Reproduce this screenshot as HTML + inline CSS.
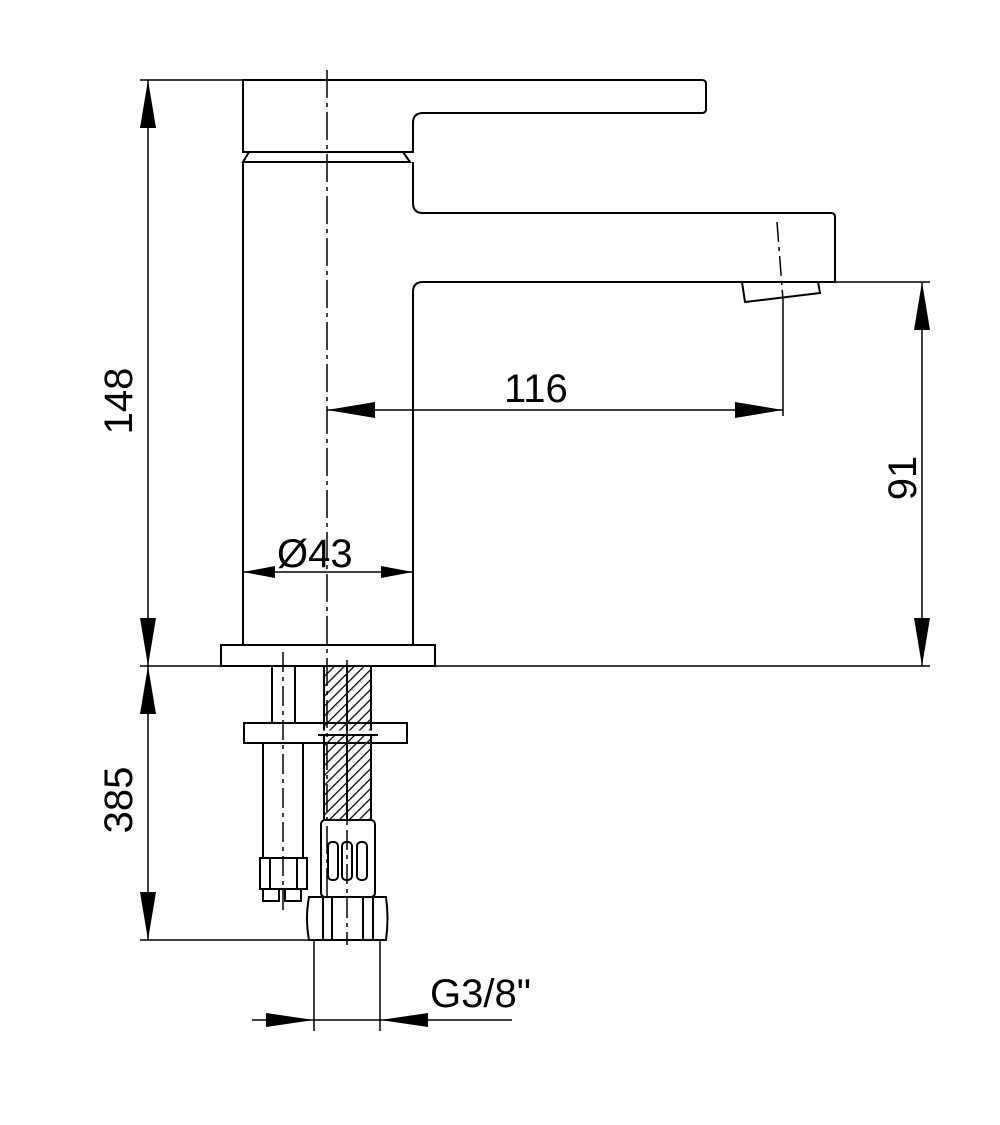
<!DOCTYPE html>
<html><head><meta charset="utf-8"><style>body{margin:0;background:#fff}svg{display:block}</style></head><body>
<svg width="1000" height="1125" viewBox="0 0 1000 1125" xmlns="http://www.w3.org/2000/svg">
<defs>
<pattern id="h" width="7" height="7" patternUnits="userSpaceOnUse" patternTransform="rotate(45)">
<line x1="0" y1="0" x2="0" y2="7" stroke="#000" stroke-width="2.5"/>
</pattern>
</defs>
<g fill="none" stroke="#000" stroke-width="2">
<path d="M243 80 H702 Q706 80 706 84 V109 Q706 113 702 113 H423 Q413 113 413 123 V152 H243 Z"/>
<path d="M249 152 L243 162 H410 L403 152"/>
<path d="M243 162 V645"/>
<path d="M413 162 V203 Q413 213 423 213 H831 Q835 213 835 217 V282 H423 Q413 282 413 292 V645"/>
<path d="M742 282 L745 302 L820 293 L818 282"/>
<rect x="221" y="645" width="214" height="21"/>
<rect x="272" y="666" width="23" height="57"/>
<rect x="244" y="723" width="163" height="20"/>
<rect x="263" y="743" width="40" height="115"/>
<rect x="260" y="858" width="47" height="31"/>
<line x1="270" y1="858" x2="270" y2="889"/><line x1="297" y1="858" x2="297" y2="889"/>
<rect x="263" y="889" width="16" height="12"/><rect x="285" y="889" width="16" height="12"/>
<rect x="324" y="666" width="47" height="154" fill="url(#h)"/>
<line x1="347" y1="666" x2="347" y2="820"/>
<line x1="318" y1="733" x2="378" y2="733" stroke="#fff" stroke-width="5"/>
<line x1="318" y1="735" x2="378" y2="735"/>
<rect x="321" y="820" width="54" height="77" rx="4"/>
<rect x="328" y="842" width="10" height="38" rx="4"/>
<rect x="342" y="842" width="10" height="38" rx="4"/>
<rect x="357" y="842" width="10" height="38" rx="4"/>
<path d="M309 897 H386 Q389 918 386 940 H309 Q305 918 309 897 Z"/>
<line x1="323" y1="897" x2="323" y2="940"/><line x1="332" y1="897" x2="332" y2="940"/>
<line x1="363" y1="897" x2="363" y2="940"/><line x1="373" y1="897" x2="373" y2="940"/>
</g>
<g stroke="#000" stroke-width="1.5" fill="none">
<line x1="327" y1="70" x2="327" y2="900" stroke-dasharray="28,5,4,5"/>
<line x1="283" y1="652" x2="283" y2="910" stroke-dasharray="20,5,4,5"/>
<line x1="347" y1="660" x2="347" y2="945" stroke-dasharray="20,5,4,5"/>
<line x1="777" y1="222" x2="783" y2="300" stroke-dasharray="20,5,4,5"/>
<line x1="783" y1="300" x2="783" y2="416"/>
<line x1="140" y1="80" x2="243" y2="80"/>
<line x1="140" y1="666" x2="930" y2="666"/>
<line x1="140" y1="940" x2="309" y2="940"/>
<line x1="835" y1="282" x2="930" y2="282"/>
<line x1="314" y1="940" x2="314" y2="1031"/>
<line x1="380" y1="940" x2="380" y2="1031"/>
<line x1="148" y1="80" x2="148" y2="666"/>
<line x1="148" y1="666" x2="148" y2="940"/>
<line x1="922" y1="282" x2="922" y2="666"/>
<line x1="327" y1="410" x2="783" y2="410"/>
<line x1="243" y1="572" x2="413" y2="572"/>
<line x1="252" y1="1020" x2="512" y2="1020"/>
</g>
<g fill="#000">
<polygon points="148,80 140,128 156,128"/>
<polygon points="148,666 140,618 156,618"/>
<polygon points="148,666 140,714 156,714"/>
<polygon points="148,940 140,892 156,892"/>
<polygon points="922,282 914,330 930,330"/>
<polygon points="922,666 914,618 930,618"/>
<polygon points="327,410 375,402 375,418"/>
<polygon points="783,410 735,402 735,418"/>
<polygon points="243,572 275,566 275,578"/>
<polygon points="413,572 381,566 381,578"/>
<polygon points="314,1020 266,1013 266,1027"/>
<polygon points="380,1020 428,1013 428,1027"/>
</g>
<g font-family="Liberation Sans, sans-serif" font-size="40" fill="#000">
<text x="132" y="401" text-anchor="middle" transform="rotate(-90 132 401)">148</text>
<text x="132" y="800" text-anchor="middle" transform="rotate(-90 132 800)">385</text>
<text x="916" y="478" text-anchor="middle" transform="rotate(-90 916 478)">91</text>
<text x="504" y="402">116</text>
<text x="277" y="567">Ø43</text>
<text x="430" y="1007">G3/8"</text>
</g>
</svg>
</body></html>
